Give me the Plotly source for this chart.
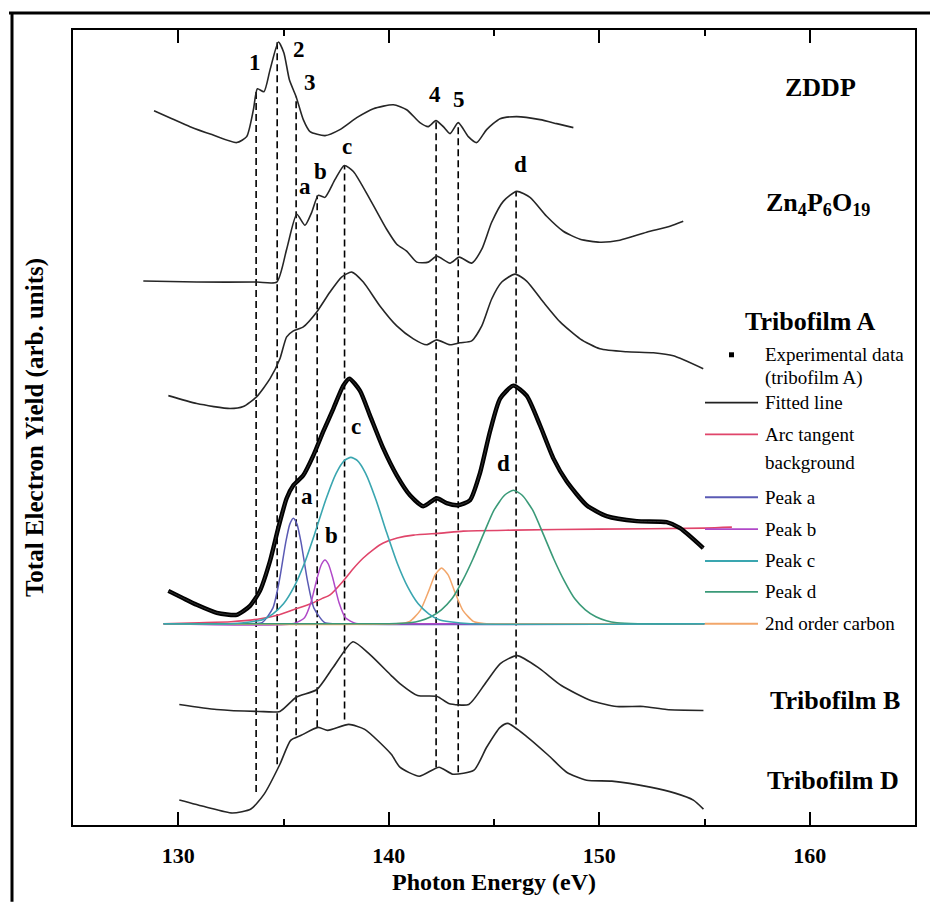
import plotly.graph_objects as go

# ---------------- data (photon energy in eV, yield in arb. units, curves stacked) -------------
ZDDP_E = [128.85,129.7,130.56,131.6,132.78,133.25,133.57,133.76,134.07,134.36,134.76,135.02,135.28,135.6,
          135.94,136.26,136.97,137.68,138.48,139.27,140.22,140.85,141.48,141.88,142.24,142.59,142.91,143.3,
          143.78,144.18,144.65,145.29,146.08,147.19,147.98,148.77]
ZDDP_Y = [717,709,701,693,685,691,718,739,736,758,786,775,748,731,708,696,692,698,710,719,723,718,705,701,
          707,701,694,705,691,685,698,709,711,708,704,700]

ZNP_E = [128.34,130.88,133.73,134.68,135.15,135.63,136.02,136.34,136.65,136.97,137.45,137.89,138.32,139.11,
         139.9,140.38,140.85,141.33,141.88,142.28,142.91,143.35,143.94,144.42,144.89,145.44,146.08,146.71,
         147.5,148.29,149.09,150.03,150.98,152.25,153.36,153.99]
ZNP_Y = [546,545,545,545,578,613,602,615,632,630,648,662,656,628,598,583,576,565,565,571,564,570,564,578,
         605,626,636,630,611,596,588,585,587,595,601,606]

TRIA_E = [129.53,130.88,132.46,133.09,133.73,134.36,134.83,135.15,135.47,135.94,136.58,137.21,137.76,138.24,
          138.79,139.58,140.38,141.17,141.8,142.28,142.91,143.38,143.94,144.42,144.89,145.37,146.0,146.55,
          147.34,148.14,149.09,150.03,151.3,152.57,153.52,154.94]
TRIA_Y = [431,423,418,420,430,448,468,490,496,500,515,535,550,555,545,521,501,488,482,487,482,484,486,501,
          528,545,553,546,525,505,488,478,475,474,471,458]

EXP_E = [129.53,130.2,130.88,131.83,132.78,133.41,133.88,134.36,134.75,135.15,135.47,135.94,136.42,136.89,
         137.37,137.84,138.13,138.63,139.11,139.74,140.38,141.01,141.64,142.28,142.75,143.3,143.86,144.33,
         144.81,145.29,145.92,146.55,147.19,147.82,148.45,149.4,150.35,151.78,153.2,153.84,154.94]
EXP_Y = [235,228,221,213,211,220,235,265,298,328,341,351,371,395,418,441,448,436,411,378,351,331,320,328,
         323,321,326,353,395,428,441,431,401,368,345,321,310,305,304,298,278]
FIT_E = EXP_E
FIT_Y = EXP_Y

ATAN_E = [129.3,131.0,132.5,133.9,134.8,135.47,136.3,136.8,137.21,137.84,138.3,138.79,139.3,139.74,140.4,
          141.17,142.5,143.54,145.96,150.0,155.0,156.3]
ATAN_Y = [202,203,204,207,211,216,222,227,231,245,257,268,277,283,288,291,293,295,296,297,298,299]

PKA_E = [129.3,133.5,134.0,134.5,134.8,135.1,135.3,135.47,135.64,135.84,136.14,136.44,136.94,137.44,155.0]
PKA_Y = [202,202,203.4,218,245,283,302,308,302,283,245,218,203.4,202,202]

PKB_E = [129.3,135.5,136.0,136.3,136.6,136.8,136.97,137.14,137.34,137.64,137.94,138.44,139.0,155.0]
PKB_Y = [202,202.3,208,223,248,261.5,266,261.5,248,223,208,202.3,202,202]

PKC_E = [129.3,132.5,133.5,134.0,134.5,135.0,135.5,136.0,136.5,137.0,137.5,137.9,138.2,138.5,138.9,139.4,
         139.9,140.4,140.9,141.4,141.9,142.4,142.9,143.9,155.0]
PKC_Y = [202,202,204,206,212,222,239,263,293.5,326,353,366,369,366,353,326,293.5,263,239,222,212,206,204,
         202,202]

PKD_E = [129.3,140.0,141.0,141.5,142.0,142.5,143.0,143.5,144.0,144.5,145.0,145.5,145.92,146.34,146.84,
         147.34,147.84,148.34,148.84,149.34,149.84,150.34,150.84,151.84,155.0]
PKD_Y = [202,202,203,205,209,216,227,245,267,292,316,331,336,331,316,292,267,245,227,216,209,205,203,202,202]

CARB_E = [129.3,140.5,141.0,141.5,141.9,142.2,142.51,142.82,143.12,143.52,144.02,144.52,145.0,155.0]
CARB_Y = [202,202.2,204.4,215.5,235,251,258,251,235,215.5,204.4,202.2,202,202]

TRIB_E = [130.05,131.82,133.83,134.83,135.59,136.59,137.35,138.3,139.11,140.12,140.53,141.37,142.3,142.85,
          143.8,144.55,145.3,146.1,147.17,148.2,149.6,150.83,152.1,153.2,154.95]
TRIB_Y = [121,116,114,114,128,136,158,184,171,150,142,130,129,122,121,141,162,170,157,140,125,119,119,116,115]

TRID_E = [130.05,131.31,132.57,133.45,134.08,134.83,135.34,135.84,136.64,137.1,138.1,138.86,140.12,140.53,
          141.45,142.39,143.04,144.05,144.65,145.29,145.66,146.6,147.58,148.45,149.4,150.6,152.42,153.6,
          154.47,154.95]
TRID_Y = [25,18,12,16,31,61,85,90,98,95,101,96,71,58,49,58,51,55,78,98,102,88,70,53,45,44,38,32,25,16]

# dashed marker lines: energy, top and bottom (arb. units)
DASH_E = [133.7, 134.7, 135.6, 136.6, 137.9, 142.25, 143.3, 146.05]
DASH_TOP = [737, 786, 731, 632, 662, 707, 705, 636]
DASH_BOT = [33, 61, 90, 98, 106, 58, 53, 101]

# peak labels
PEAK_TXT = ["1", "2", "3", "4", "5", "a", "b", "c", "d", "a", "b", "c", "d"]
PEAK_E = [133.65, 135.75, 136.26, 142.2, 143.35, 136.02, 136.76, 138.0, 146.24, 136.1, 137.29, 138.44, 145.44]
PEAK_Y = [765, 778, 745, 733, 728, 641, 656, 681, 663, 330, 291, 400, 363]

# curve names
CURVE_TXT = ["ZDDP", "Zn<sub>4</sub>P<sub>6</sub>O<sub>19</sub>", "Tribofilm A", "Tribofilm B", "Tribofilm D"]
CURVE_E = [160.49, 160.4, 160.0, 161.2, 161.1]
CURVE_Y = [740, 623, 505, 125, 45]

# legend entries
LEG_TXT = ["Experimental data<br>(tribofilm A)", "Fitted line", "Arc tangent<br>background", "Peak a",
           "Peak b", "Peak c", "Peak d", "2nd order carbon"]

COL_ATAN = "#e0456a"
COL_A = "#5a5ab4"
COL_B = "#b048c8"
COL_C = "#3aa6b0"
COL_D = "#3a9a78"
COL_CARB = "#f2a66a"
COL_CURVE = "#262626"
SERIF = "Liberation Serif"

fig = go.Figure()

def add_line(x, y, color, width, dash=None, shape="spline"):
    fig.add_trace(go.Scatter(x=x, y=y, mode="lines", showlegend=False, hoverinfo="skip",
                             line=dict(color=color, width=width, dash=dash, shape=shape, smoothing=0.6)))

for e, t, b in zip(DASH_E, DASH_TOP, DASH_BOT):
    add_line([e, e], [b, t], "black", 1.6, dash="7px,4px", shape="linear")

add_line(ATAN_E, ATAN_Y, COL_ATAN, 1.6)
add_line(PKA_E, PKA_Y, COL_A, 1.5)
add_line(PKB_E, PKB_Y, COL_B, 1.5)
add_line(CARB_E, CARB_Y, COL_CARB, 1.5)
add_line(PKD_E, PKD_Y, COL_D, 1.6)
add_line(PKC_E, PKC_Y, COL_C, 1.6)

for ex, ey in [(ZDDP_E, ZDDP_Y), (ZNP_E, ZNP_Y), (TRIA_E, TRIA_Y), (TRIB_E, TRIB_Y), (TRID_E, TRID_Y)]:
    add_line(ex, ey, COL_CURVE, 1.6)

add_line(EXP_E, EXP_Y, "black", 4.4)
add_line(FIT_E, FIT_Y, "#333333", 1.0)

annotations = []
for t, e, y in zip(PEAK_TXT, PEAK_E, PEAK_Y):
    annotations.append(dict(x=e, y=y, xref="x", yref="y", text=t, showarrow=False,
                            font=dict(family=SERIF, size=23, color="black", weight="bold")))
for t, e, y in zip(CURVE_TXT, CURVE_E, CURVE_Y):
    annotations.append(dict(x=e, y=y, xref="x", yref="y", text=t, showarrow=False,
                            font=dict(family=SERIF, size=26, color="black", weight="bold")))

# ---- hand-built legend (pixel layout -> paper coordinates) ----
L, T, W, H = 73, 30, 842, 798
def px(xp):
    return (xp - L) / W
def py(yp):
    return (T + H - yp) / H

leg_rows = [(356, 379), (404, None), (436, 464), (499, None), (531, None), (563, None), (594, None), (626, None)]
leg_cols = ["black", "#222222", COL_ATAN, COL_A, COL_B, COL_C, COL_D, COL_CARB]
shapes = []
for i, (txt, (y1, y2), col) in enumerate(zip(LEG_TXT, leg_rows, leg_cols)):
    lines = txt.split("<br>")
    annotations.append(dict(x=px(763), y=py(y1), xref="paper", yref="paper", text=lines[0], showarrow=False,
                            xanchor="left", yanchor="middle",
                            font=dict(family=SERIF, size=19, color="black")))
    if y2 is not None:
        annotations.append(dict(x=px(763), y=py(y2), xref="paper", yref="paper", text=lines[1],
                                showarrow=False, xanchor="left", yanchor="middle",
                                font=dict(family=SERIF, size=19, color="black")))
    if i == 0:
        shapes.append(dict(type="rect", xref="paper", yref="paper", x0=px(729), x1=px(734),
                           y0=py(y1 + 2.5), y1=py(y1 - 2.5), fillcolor="black", line=dict(width=0)))
    else:
        shapes.append(dict(type="line", xref="paper", yref="paper", x0=px(705), x1=px(758),
                           y0=py(y1), y1=py(y1), line=dict(color=col, width=1.8)))

# outer image border (top and left)
shapes.append(dict(type="line", xref="paper", yref="paper", x0=px(9), x1=px(931), y0=py(13), y1=py(13),
                   line=dict(color="black", width=3)))
shapes.append(dict(type="line", xref="paper", yref="paper", x0=px(12), x1=px(12), y0=py(12), y1=py(905),
                   line=dict(color="black", width=3)))

fig.update_layout(
    width=930, height=903,
    margin=dict(l=L, r=930 - L - W, t=T, b=903 - T - H),
    paper_bgcolor="white", plot_bgcolor="white",
    annotations=annotations, shapes=shapes,
    showlegend=False,
)
fig.update_xaxes(
    range=[125, 165], tickvals=[130, 140, 150, 160], ticktext=["130", "140", "150", "160"],
    ticks="inside", ticklen=13, tickwidth=1.6, tickcolor="black",
    minor=dict(tickvals=[135, 145, 155], ticks="inside", ticklen=6, tickwidth=1.6, tickcolor="black"),
    showline=True, linewidth=2, linecolor="black", mirror="ticks", showgrid=False, zeroline=False,
    tickfont=dict(family=SERIF, size=22, color="black", weight="bold"), ticklabelstandoff=10,
    title=dict(text="Photon Energy (eV)", standoff=6,
               font=dict(family=SERIF, size=24, color="black", weight="bold")),
)
fig.update_yaxes(
    range=[0, 798], showticklabels=False, ticks="", showline=True, linewidth=2, linecolor="black",
    mirror=True, showgrid=False, zeroline=False,
    title=dict(text="Total Electron Yield (arb. units)", standoff=20,
               font=dict(family=SERIF, size=25, color="black", weight="bold")),
)

fig.write_html("out.html")
